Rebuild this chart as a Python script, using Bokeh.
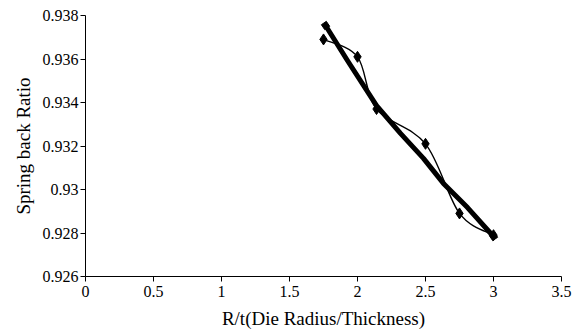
import numpy as np
from bokeh.plotting import figure
from bokeh.models import FixedTicker, ColumnDataSource
from bokeh.embed import file_html
from bokeh.resources import INLINE

# Measured series (diamonds, smoothed thin line)
rt_measured = [1.75, 2.0, 2.14, 2.5, 2.75, 3.0]
sb_measured = [0.9369, 0.9361, 0.9337, 0.9321, 0.9289, 0.9279]

# Second series (thick line)
rt_thick = [1.765, 1.926, 2.14, 2.316, 2.485, 2.632, 2.809, 3.0]
sb_thick = [0.93754, 0.93593, 0.93386, 0.93258, 0.93143, 0.93028, 0.92917, 0.92784]

x_ticks = [0, 0.5, 1, 1.5, 2, 2.5, 3, 3.5]
x_tick_labels = ["0", "0.5", "1", "1.5", "2", "2.5", "3", "3.5"]
y_ticks = [0.926, 0.928, 0.93, 0.932, 0.934, 0.936, 0.938]
y_tick_labels = ["0.926", "0.928", "0.93", "0.932", "0.934", "0.936", "0.938"]

FONT = "Liberation Serif"

p = figure(width=576, height=335, output_backend="svg", toolbar_location=None,
           x_range=(0, 3.5), y_range=(0.926, 0.938),
           frame_width=476, frame_height=261,
           min_border_left=85, min_border_right=15, min_border_top=15, min_border_bottom=59)
p.outline_line_color = None
p.xgrid.visible = False
p.ygrid.visible = False
p.background_fill_color = "white"

def smooth_segments(xs, ys):
    xs = np.asarray(xs, float); ys = np.asarray(ys, float)
    n = len(xs)
    x0, y0, x1, y1, cx0, cy0, cx1, cy1 = ([] for _ in range(8))
    for i in range(n - 1):
        ip = max(i - 1, 0); inn = min(i + 2, n - 1)
        x0.append(xs[i]); y0.append(ys[i]); x1.append(xs[i + 1]); y1.append(ys[i + 1])
        cx0.append(xs[i] + (xs[i + 1] - xs[ip]) / 6); cy0.append(ys[i] + (ys[i + 1] - ys[ip]) / 6)
        cx1.append(xs[i + 1] - (xs[inn] - xs[i]) / 6); cy1.append(ys[i + 1] - (ys[inn] - ys[i]) / 6)
    return dict(x0=x0, y0=y0, x1=x1, y1=y1, cx0=cx0, cy0=cy0, cx1=cx1, cy1=cy1)

p.line(rt_thick, sb_thick, line_color="black", line_width=5, line_join="round")

thin_src = ColumnDataSource(smooth_segments(rt_measured, sb_measured))
p.bezier(x0="x0", y0="y0", x1="x1", y1="y1", cx0="cx0", cy0="cy0", cx1="cx1", cy1="cy1",
         source=thin_src, line_color="black", line_width=1.4)
p.scatter(rt_measured, sb_measured, marker="diamond", size=11, color="black")
p.scatter([rt_thick[0], rt_thick[-1]], [sb_thick[0], sb_thick[-1]], marker="square", size=6,
          color="black", angle=0.6)

p.xaxis.ticker = FixedTicker(ticks=x_ticks)
p.xaxis.major_label_overrides = {t: l for t, l in zip(x_ticks, x_tick_labels)}
p.yaxis.ticker = FixedTicker(ticks=y_ticks)
p.yaxis.major_label_overrides = {t: l for t, l in zip(y_ticks, y_tick_labels)}

for ax in (p.xaxis, p.yaxis):
    ax.axis_line_color = "black"
    ax.axis_line_width = 1
    ax.major_tick_line_color = "black"
    ax.major_tick_in = 0
    ax.major_tick_out = 5
    ax.minor_tick_line_color = None
    ax.major_label_text_font = FONT
    ax.major_label_text_font_size = "16px"
    ax.major_label_text_color = "black"
    ax.axis_label_text_font = FONT
    ax.axis_label_text_font_size = "19px"
    ax.axis_label_text_font_style = "normal"
    ax.axis_label_text_color = "black"

p.xaxis.axis_label = "R/t(Die Radius/Thickness)"
p.yaxis.axis_label = "Spring back Ratio"
p.xaxis.major_label_standoff = 4
p.xaxis.axis_label_standoff = 8
p.yaxis.major_label_standoff = 2
p.yaxis.axis_label_standoff = 6

open("out.html", "w").write(file_html(p, INLINE))
